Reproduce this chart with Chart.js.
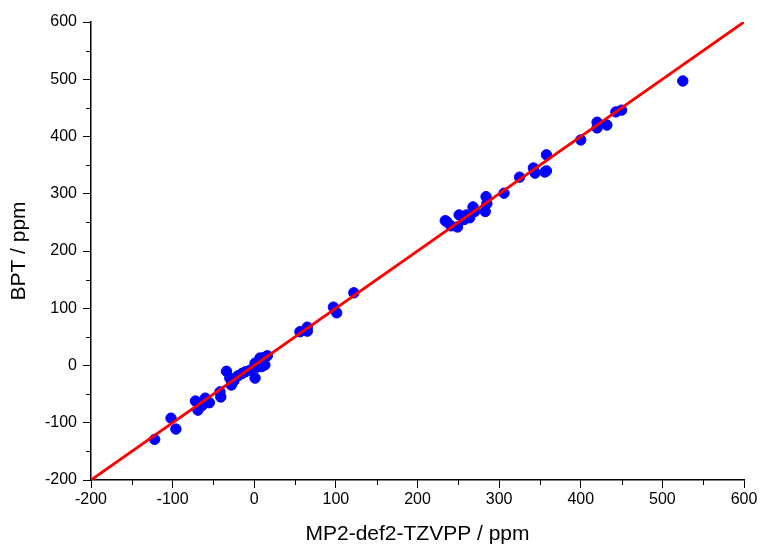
<!DOCTYPE html>
<html>
<head>
<meta charset="utf-8">
<script src="https://cdn.jsdelivr.net/npm/chart.js@4.4.1/dist/chart.umd.min.js"></script>
<style>
html,body{margin:0;padding:0;background:#fff;}
#wrap{width:761px;height:545px;}
</style>
</head>
<body>
<div id="wrap"><canvas id="c" width="761" height="545"></canvas></div>
<script>
const mp2X = [-122,-102,-96,-72,-69,-60,-55,-64,-42,-41,-34,-30,-28,-25,-20,-15,-11,-5,1,1,3,7,9,13,12,16,
  56,65,65,97,101,122,
  236,234,241,249,251,257,260,264,268,270,283,284,285,306,325,342,344,356,358,358,
  400,420,420,432,443,450,525];
const bptY = [-129,-92,-111,-62,-78,-57,-65,-70,-46,-55,-10,-22,-34,-27,-18,-14,-11,-8,4,-22,-3,13,-2,1,14,17,
  59,67,60,102,92,127,
  251,253,244,242,263,255,263,258,277,269,269,295,283,301,329,345,336,338,368,340,
  394,425,415,420,443,446,497];
const lineX = [-200, 600];
const lineY = [-200, 600];
const xTicksMajor = [-200,-100,0,100,200,300,400,500,600];
const yTicksMajor = [-200,-100,0,100,200,300,400,500,600];

const points = mp2X.map((x,i)=>({x:x,y:bptY[i]}));
const linePts = lineX.map((x,i)=>({x:x,y:lineY[i]}));

const minorTicks = {
  id:'minorTicks',
  afterDraw(chart){
    const ctx = chart.ctx;
    const xs = chart.scales.x, ys = chart.scales.y;
    ctx.save();
    ctx.strokeStyle = '#000';
    ctx.lineWidth = 1;
    ctx.beginPath();
    for (let v = -150; v < 600; v += 100) {
      const px = Math.round(xs.getPixelForValue(v)) + 0.5;
      ctx.moveTo(px, xs.top); ctx.lineTo(px, xs.top + 5);
      const py = Math.round(ys.getPixelForValue(v)) + 0.5;
      ctx.moveTo(ys.right, py); ctx.lineTo(ys.right - 5, py);
    }
    ctx.stroke();
    ctx.restore();
  }
};

const tickFont = {family:'Liberation Sans, Arial, sans-serif', size:16};
const titleFontX = {family:'Liberation Sans, Arial, sans-serif', size:21, lineHeight:1};
const titleFontY = {family:'Liberation Sans, Arial, sans-serif', size:21, lineHeight:1};

new Chart(document.getElementById('c'), {
  data: {
    datasets: [
      {type:'line', data: linePts, borderColor:'#ff0000', borderWidth:2.8, pointRadius:0, fill:false, order:0},
      {type:'scatter', data: points, backgroundColor:'#0000ff', borderColor:'#0000ff', pointRadius:5.2, pointHoverRadius:5.2, order:1}
    ]
  },
  options: {
    responsive:false,
    animation:false,
    events:[],
    layout:{padding:{left:0, top:22, right:17, bottom:0}},
    plugins:{legend:{display:false}, tooltip:{enabled:false}},
    scales:{
      x:{
        type:'linear', min:-200, max:600,
        afterBuildTicks(scale){ scale.ticks = xTicksMajor.map(v=>({value:v})); },
        afterFit(scale){ scale.height = 65; },
        grid:{display:true, drawOnChartArea:false, drawTicks:true, tickLength:8, color:'#000', lineWidth:1},
        border:{display:true, color:'#000', width:1.5},
        ticks:{color:'#000', font:tickFont, padding:2, maxRotation:0, autoSkip:false},
        title:{display:true, text:'MP2-def2-TZVPP / ppm', color:'#000', font:titleFontX, padding:{top:0,bottom:0}}
      },
      y:{
        type:'linear', min:-200, max:600,
        afterBuildTicks(scale){ scale.ticks = yTicksMajor.map(v=>({value:v})); },
        afterFit(scale){ scale.width = 91; },
        grid:{display:true, drawOnChartArea:false, drawTicks:true, tickLength:8, color:'#000', lineWidth:1},
        border:{display:true, color:'#000', width:1.5},
        ticks:{color:'#000', font:tickFont, padding:6, autoSkip:false},
        title:{display:true, text:'BPT / ppm', color:'#000', font:titleFontY, padding:{top:9,bottom:0}}
      }
    }
  },
  plugins:[minorTicks]
});
</script>
</body>
</html>
